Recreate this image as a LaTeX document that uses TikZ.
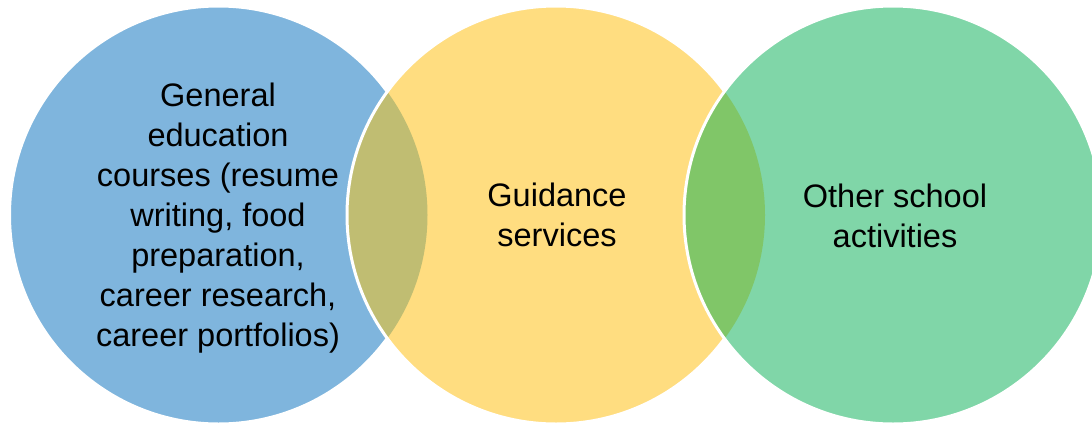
\documentclass[tikz,border=0pt]{standalone}
\usepackage{fontspec}
\setmainfont{Liberation Sans}
\definecolor{cblue}{HTML}{7FB5DD}
\definecolor{cyellow}{HTML}{FFDD80}
\definecolor{cgreen}{HTML}{80D6A8}
\definecolor{clensA}{HTML}{C0BD72}
\definecolor{clensB}{HTML}{80C668}
\tikzset{
  ring/.style={draw=white, line width=3pt},
  label/.style={align=center, inner sep=0pt, font=\fontsize{32.5}{40}\selectfont}
}
\begin{document}
\begin{tikzpicture}[x=1pt,y=-1pt]
\useasboundingbox (0,0) rectangle (1092,426);
\clip (0,0) rectangle (1092,426);
\coordinate (cb) at (218.5,215);
\coordinate (cy) at (556,215);
\coordinate (cg) at (893,215);
% blue
\fill[cblue] (cb) circle (209);
\draw[ring] (cb) circle (209);
% yellow
\fill[cyellow] (cy) circle (209);
\begin{scope}
  \clip (cb) circle (209);
  \fill[clensA] (cy) circle (209);
\end{scope}
\draw[ring] (cy) circle (209);
% green
\fill[cgreen] (cg) circle (209);
\begin{scope}
  \clip (cy) circle (209);
  \fill[clensB] (cg) circle (209);
\end{scope}
\draw[ring] (cg) circle (209);
% texts
\node[label] (tb) at (218,218.5) {General\\education\\courses (resume\\writing, food\\preparation,\\career research,\\career portfolios)};
\node[label] (ty) at (557,215) {Guidance\\services};
\node[label] (tg) at (895,215.5) {Other school\\activities};
\end{tikzpicture}
\end{document}
